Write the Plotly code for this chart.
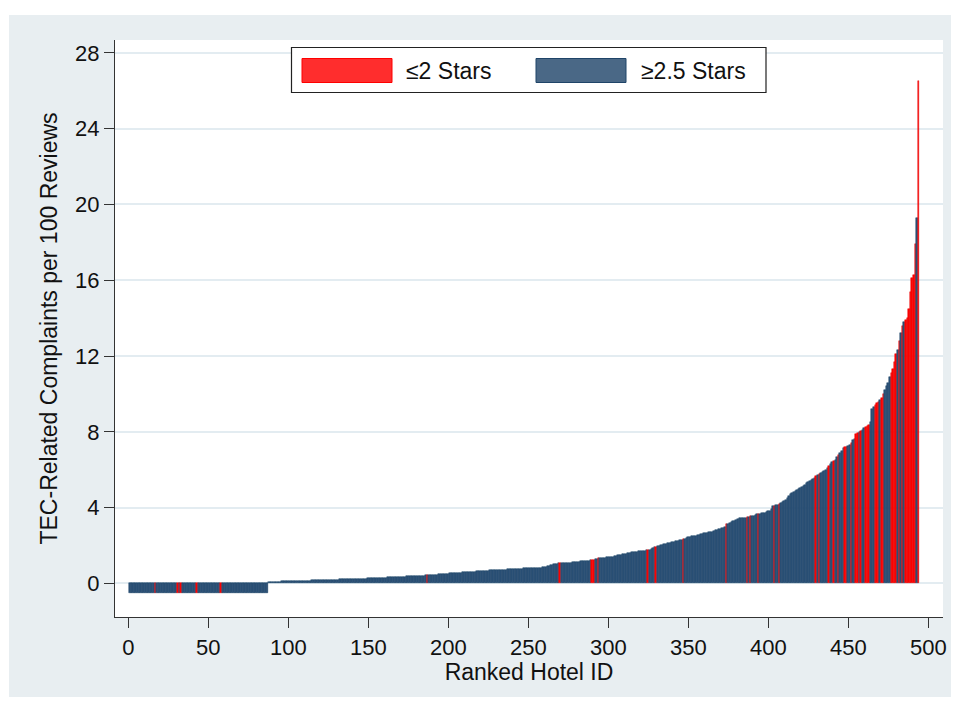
import plotly.graph_objects as go

# ---------------- data ----------------
# hotels 1..87: plotted as small negative bars
zero_group_values = [
    -0.5, -0.5, -0.5, -0.5, -0.5, -0.5, -0.5, -0.5, -0.5, -0.5,
    -0.5, -0.5, -0.5, -0.5, -0.5, -0.5, -0.5, -0.5, -0.5, -0.5,
    -0.5, -0.5, -0.5, -0.5, -0.5, -0.5, -0.5, -0.5, -0.5, -0.5,
    -0.5, -0.5, -0.5, -0.5, -0.5, -0.5, -0.5, -0.5, -0.5, -0.5,
    -0.5, -0.5, -0.5, -0.5, -0.5, -0.5, -0.5, -0.5, -0.5, -0.5,
    -0.5, -0.5, -0.5, -0.5, -0.5, -0.5, -0.5, -0.5, -0.5, -0.5,
    -0.5, -0.5, -0.5, -0.5, -0.5, -0.5, -0.5, -0.5, -0.5, -0.5,
    -0.5, -0.5, -0.5, -0.5, -0.5, -0.5, -0.5, -0.5, -0.5, -0.5,
    -0.5, -0.5, -0.5, -0.5, -0.5, -0.5, -0.5,
]
# hotels 88..259
low_values = [
    0.08, 0.08, 0.09, 0.09, 0.09, 0.10, 0.10, 0.10, 0.11, 0.11, 0.11, 0.12,
    0.12, 0.12, 0.12, 0.13, 0.13, 0.13, 0.13, 0.14, 0.14, 0.14, 0.14, 0.15,
    0.15, 0.15, 0.15, 0.16, 0.16, 0.16, 0.16, 0.17, 0.17, 0.17, 0.17, 0.18,
    0.18, 0.18, 0.19, 0.19, 0.19, 0.20, 0.20, 0.20, 0.21, 0.21, 0.21, 0.22,
    0.22, 0.22, 0.23, 0.23, 0.23, 0.24, 0.24, 0.24, 0.25, 0.25, 0.25, 0.26,
    0.26, 0.26,
    0.27, 0.27, 0.28, 0.28, 0.28, 0.29, 0.29, 0.30, 0.30, 0.30, 0.31, 0.31,
    0.32, 0.32, 0.32, 0.33, 0.33, 0.34, 0.34, 0.34,
    0.35, 0.35, 0.36, 0.36, 0.37, 0.37, 0.38, 0.38, 0.39, 0.39, 0.40, 0.40,
    0.41, 0.41, 0.42, 0.42, 0.43,
    0.44, 0.44, 0.45, 0.46, 0.46, 0.47, 0.47, 0.48, 0.49, 0.49, 0.50, 0.50,
    0.51,
    0.52, 0.53, 0.53, 0.54, 0.55, 0.55, 0.56, 0.57, 0.57, 0.58, 0.59, 0.59,
    0.60, 0.61, 0.61,
    0.62, 0.63, 0.63, 0.64, 0.65, 0.65, 0.66, 0.66, 0.67, 0.68, 0.68, 0.69,
    0.69,
    0.70, 0.70, 0.71, 0.71, 0.72, 0.72, 0.72, 0.73, 0.73, 0.74, 0.74, 0.75,
    0.75, 0.76, 0.76, 0.77, 0.77, 0.78, 0.78, 0.79, 0.79, 0.80,
    0.80, 0.80, 0.81, 0.81, 0.82, 0.82, 0.83, 0.83, 0.84, 0.85,
]
# hotels 260..409
mid_values = [
    0.86, 0.88, 0.90, 0.94, 0.97, 1.00, 1.02, 1.04, 1.05, 1.06,
    1.07, 1.07, 1.08, 1.08, 1.09, 1.09, 1.10, 1.10, 1.11, 1.12,
    1.13, 1.14, 1.15, 1.16, 1.17, 1.18, 1.19, 1.20, 1.21, 1.22,
    1.23, 1.25, 1.28, 1.30, 1.32, 1.33, 1.34, 1.36, 1.37, 1.38,
    1.39, 1.40, 1.41, 1.42, 1.44, 1.46, 1.48, 1.50, 1.52, 1.54,
    1.56, 1.58, 1.59, 1.61, 1.63, 1.65, 1.66, 1.67, 1.68, 1.69,
    1.70, 1.71, 1.72, 1.73, 1.75, 1.77, 1.79, 1.82, 1.86, 1.90,
    1.94, 1.96, 1.98, 2.01, 2.04, 2.07, 2.10, 2.12, 2.14, 2.16,
    2.18, 2.20, 2.22, 2.24, 2.26, 2.28, 2.30, 2.33, 2.37, 2.40,
    2.43, 2.46, 2.48, 2.50, 2.51, 2.53, 2.55, 2.58, 2.60, 2.62,
    2.64, 2.66, 2.68, 2.70, 2.72, 2.74, 2.77, 2.80, 2.83, 2.87,
    2.90, 2.92, 2.95, 3.00, 3.13, 3.16, 3.20, 3.24, 3.28, 3.32,
    3.36, 3.40, 3.43, 3.45, 3.46, 3.47, 3.48, 3.50, 3.52, 3.54,
    3.56, 3.58, 3.62, 3.64, 3.66, 3.68, 3.70, 3.72, 3.74, 3.77,
    3.80, 3.85, 3.95, 4.08, 4.10, 4.12, 4.15, 4.20, 4.25, 4.30,
]
# hotels 410..494
tail_values = [
    4.35, 4.40, 4.50, 4.60, 4.70, 4.80, 4.85, 4.90, 4.95, 5.00,
    5.05, 5.10, 5.15, 5.20, 5.30, 5.35, 5.40, 5.45, 5.50, 5.55,
    5.65, 5.70, 5.80, 5.85, 5.90, 5.95, 6.00, 6.10, 6.20, 6.30,
    6.40, 6.45, 6.50, 6.65, 6.80, 6.90, 7.00, 7.15, 7.18, 7.20,
    7.25, 7.30, 7.40, 7.55, 7.60, 7.90, 7.95, 8.00, 8.05, 8.10,
    8.20, 8.25, 8.30, 8.35, 8.50, 9.20, 9.30, 9.40, 9.50, 9.60,
    9.70, 9.80, 10.00, 10.20, 10.40, 10.60, 10.90, 11.10, 11.30, 11.70,
    12.10, 12.30, 12.80, 13.20, 13.60, 13.80, 13.90, 14.00, 14.50, 15.40,
    16.10, 16.30, 17.90, 19.30, 26.50,
]
# ranked hotel IDs rated <= 2 stars (all others are >= 2.5 stars)
low_star_ids = [
    17, 31, 33, 43, 58, 187, 270, 290, 291, 294, 325, 330, 347, 374,
    387, 389, 394, 404, 407, 430, 432, 438, 441, 444, 448, 449, 452,
    455, 456, 458, 461, 462, 463, 467, 468, 469, 471, 472, 477, 478,
    479, 480, 482, 484, 486, 487, 488, 489, 490, 491, 492, 494,
]
legend_labels = ["≤2 Stars", "≥2.5 Stars"]
x_ticks = [0, 50, 100, 150, 200, 250, 300, 350, 400, 450, 500]
y_ticks = [0, 4, 8, 12, 16, 20, 24, 28]

# ---------------- build ----------------
values = zero_group_values + low_values + mid_values + tail_values
hotel_id = list(range(1, len(values) + 1))

RED, RED_LINE = "#ff0000", "#e60000"
NAVY, NAVY_LINE = "#2b5177", "#1c4166"
low_set = set(low_star_ids)
fill_colors = [RED if h in low_set else NAVY for h in hotel_id]
line_colors = [RED_LINE if h in low_set else NAVY_LINE for h in hotel_id]

W, H = 955, 704
L, R, T, B = 115, 943, 40, 617


def px(x):
    return (x - L) / (R - L)


def py(y):
    return (B - y) / (B - T)


FONT = "Liberation Sans, Arial, Helvetica, sans-serif"
TXT = "#111111"

fig = go.Figure(
    go.Bar(
        x=hotel_id,
        y=values,
        width=1,
        marker=dict(color=fill_colors, line=dict(color=line_colors, width=0.5)),
        showlegend=False,
        hoverinfo="x+y",
    )
)

shapes = [
    dict(type="rect", xref="paper", yref="paper", layer="below",
         x0=px(9), x1=px(951), y0=py(697), y1=py(15),
         fillcolor="#e8eef1", line=dict(width=0)),
    dict(type="rect", xref="paper", yref="paper", layer="below",
         x0=0, x1=1, y0=0, y1=1, fillcolor="#ffffff", line=dict(width=0)),
    # legend frame and swatches
    dict(type="rect", xref="paper", yref="paper", layer="above",
         x0=px(291.5), x1=px(766), y0=py(92.5), y1=py(47.5),
         fillcolor="#ffffff", line=dict(color="#222222", width=1.2)),
    dict(type="rect", xref="paper", yref="paper", layer="above",
         x0=px(302), x1=px(392), y0=py(82.5), y1=py(58.5),
         fillcolor="#ff2d2d", line=dict(color="#ff0000", width=1)),
    dict(type="rect", xref="paper", yref="paper", layer="above",
         x0=px(536), x1=px(626), y0=py(82.5), y1=py(58.5),
         fillcolor="#4a6886", line=dict(color="#1f4468", width=1)),
]

annotations = [
    dict(xref="paper", yref="paper", x=px(404), y=py(71), xanchor="left",
         yanchor="middle", showarrow=False, text=legend_labels[0],
         font=dict(family=FONT, size=23, color=TXT)),
    dict(xref="paper", yref="paper", x=px(639), y=py(71), xanchor="left",
         yanchor="middle", showarrow=False, text=legend_labels[1],
         font=dict(family=FONT, size=23, color=TXT)),
]

fig.update_layout(
    width=W, height=H,
    margin=dict(l=L, r=W - R, t=T, b=H - B, autoexpand=False),
    paper_bgcolor="#ffffff",
    plot_bgcolor="#ffffff",
    bargap=0,
    shapes=shapes,
    annotations=annotations,
    font=dict(family=FONT, color=TXT),
    showlegend=False,
    xaxis=dict(
        range=[-8.3, 509.2], tickvals=x_ticks, showgrid=False, zeroline=False,
        showline=True, linecolor="#333333", linewidth=1.2,
        ticks="outside", ticklen=10, tickwidth=1.2, tickcolor="#333333",
        tickfont=dict(family=FONT, size=22, color=TXT),
        title=dict(text="Ranked Hotel ID", standoff=3,
                   font=dict(family=FONT, size=23, color=TXT)),
    ),
    yaxis=dict(
        range=[-1.77, 28.68], tickvals=y_ticks, showgrid=True,
        gridcolor="#e3ecf1", gridwidth=1.6, zeroline=False,
        showline=True, linecolor="#333333", linewidth=1.2,
        ticks="outside", ticklen=10, tickwidth=1.2, tickcolor="#333333",
        tickfont=dict(family=FONT, size=22, color=TXT),
        title=dict(text="TEC-Related Complaints per 100 Reviews", standoff=10,
                   font=dict(family=FONT, size=23, color=TXT)),
    ),
)

fig.write_html(
    "out.html",
    config={"displayModeBar": False},
    post_script="document.body.style.margin='0';document.body.style.overflow='hidden';",
)
